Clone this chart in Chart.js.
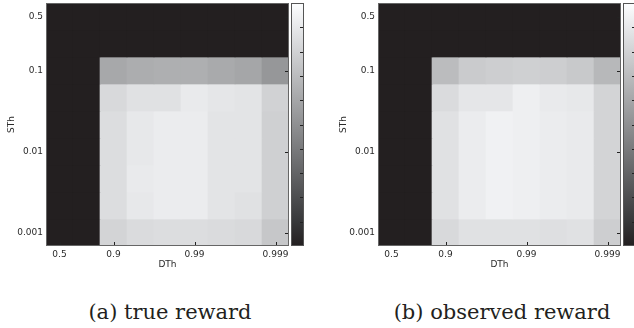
<!DOCTYPE html>
<html>
<head>
<meta charset="utf-8">
<script src="https://cdn.jsdelivr.net/npm/chart.js@4"></script>
<style>
body{margin:0;background:#fff;width:634px;height:328px;overflow:hidden;position:relative}
.panel{position:absolute;top:0}
.caption{position:absolute;top:300px;font-family:"DejaVu Serif";font-size:21px;color:#231f20;white-space:nowrap;transform:translateX(-50%)}
</style>
</head>
<body>
<div class="panel" style="left:0"><canvas id="trueChart" width="320" height="276"></canvas></div>
<div class="panel" style="left:332px"><canvas id="obsChart" width="302" height="276"></canvas></div>
<div class="caption" style="left:170px">(a) true reward</div>
<div class="caption" style="left:502px">(b) observed reward</div>
<script>
// tick labels (DTh columns, STh rows top to bottom)
const dthLabels = ["0.5", "", "0.9", "", "", "0.99", "", "", "0.999"];
const sthLabels = ["0.5", "", "0.1", "", "", "0.01", "", "", "0.001"];

// normalised reward, one row per STh, one column per DTh
const trueReward = [
    [0, 0, 0,    0,    0,    0,    0,    0,    0   ],
    [0, 0, 0,    0,    0,    0,    0,    0,    0   ],
    [0, 0, 0.61, 0.63, 0.64, 0.64, 0.62, 0.60, 0.53],
    [0, 0, 0.83, 0.87, 0.87, 0.91, 0.89, 0.88, 0.80],
    [0, 0, 0.85, 0.90, 0.92, 0.92, 0.88, 0.88, 0.79],
    [0, 0, 0.85, 0.90, 0.92, 0.92, 0.88, 0.88, 0.79],
    [0, 0, 0.85, 0.91, 0.92, 0.92, 0.88, 0.88, 0.79],
    [0, 0, 0.85, 0.90, 0.92, 0.92, 0.88, 0.87, 0.79],
    [0, 0, 0.81, 0.84, 0.85, 0.85, 0.84, 0.83, 0.75]
];

const observedReward = [
    [0, 0, 0,    0,    0,    0,    0,    0,    0   ],
    [0, 0, 0,    0,    0,    0,    0,    0,    0   ],
    [0, 0, 0.70, 0.77, 0.78, 0.79, 0.78, 0.76, 0.68],
    [0, 0, 0.84, 0.89, 0.89, 0.93, 0.91, 0.90, 0.81],
    [0, 0, 0.87, 0.92, 0.94, 0.93, 0.92, 0.91, 0.81],
    [0, 0, 0.87, 0.92, 0.94, 0.93, 0.92, 0.91, 0.81],
    [0, 0, 0.87, 0.92, 0.94, 0.93, 0.92, 0.91, 0.81],
    [0, 0, 0.87, 0.92, 0.94, 0.93, 0.92, 0.91, 0.81],
    [0, 0, 0.83, 0.87, 0.87, 0.87, 0.86, 0.87, 0.78]
];

const colorbarTicks = [0, 0.1, 0.2, 0.3, 0.4, 0.5, 0.6, 0.7, 0.8, 0.9, 1];

Chart.defaults.font.family = "DejaVu Sans";
Chart.defaults.font.size = 9;
Chart.defaults.color = "#2a2a2a";

function grey(v){
    if(v <= 0) return "rgb(35,31,32)";
    const g = Math.round(35 + 220 * v);
    return "rgb(" + (g - 2) + "," + (g - 1) + "," + Math.min(255, g + 1) + ")";
}

/* ticks, frame and colorbar */
const heatmapExtras = {
    id: "heatmapExtras",
    afterDraw(chart){
        const ctx = chart.ctx;
        const a = chart.chartArea;
        const xs = chart.scales.x;
        const ys = chart.scales.y;

        ctx.save();
        ctx.strokeStyle = "#666";
        ctx.lineWidth = 1;
        ctx.strokeRect(a.left + 0.5, a.top + 0.5, a.right - a.left - 1, a.bottom - a.top - 1);

        ctx.strokeStyle = "#222";
        ctx.beginPath();
        dthLabels.forEach(function(l, i){
            if(!l) return;
            const x = Math.round(xs.getPixelForTick(i)) + 0.5;
            ctx.moveTo(x, a.bottom - 1);
            ctx.lineTo(x, a.bottom - 4);
        });
        sthLabels.forEach(function(l, i){
            if(!l) return;
            const y = Math.round(ys.getPixelForValue(i)) + 0.5;
            ctx.moveTo(a.right - 1, y);
            ctx.lineTo(a.right - 4, y);
        });
        ctx.stroke();

        // colorbar
        const cx = a.right + 2;
        const cw = 13;
        const grad = ctx.createLinearGradient(0, a.bottom, 0, a.top);
        colorbarTicks.forEach(function(t){ grad.addColorStop(t, grey(t)); });
        ctx.fillStyle = grad;
        ctx.fillRect(cx, a.top, cw, a.bottom - a.top);
        ctx.strokeStyle = "#555";
        ctx.strokeRect(cx + 0.5, a.top + 0.5, cw - 1, a.bottom - a.top - 1);

        ctx.strokeStyle = "#222";
        ctx.beginPath();
        colorbarTicks.forEach(function(t){
            if(t === 0 || t === 1) return;
            const y = Math.round(a.bottom - t * (a.bottom - a.top)) + 0.5;
            ctx.moveTo(cx + cw - 1, y);
            ctx.lineTo(cx + cw - 4, y);
        });
        ctx.stroke();
        ctx.restore();
    }
};

function makeHeatmap(canvasId, values, padRight){

    const datasets = values.map(function(row, r){
        return {
            data: row.map(function(){ return [r - 0.5, r + 0.5]; }),
            backgroundColor: row.map(grey),
            borderWidth: 0,
            barPercentage: 1,
            categoryPercentage: 1,
            grouped: false
        };
    });

    new Chart(document.getElementById(canvasId), {
        type: "bar",
        data: {
            labels: dthLabels,
            datasets: datasets
        },
        options: {
            responsive: false,
            animation: false,
            layout: { padding: { top: 3, right: padRight, left: 0, bottom: 0 } },
            plugins: {
                legend: { display: false },
                tooltip: { enabled: false }
            },
            scales: {
                x: {
                    grid: { display: false, drawTicks: false },
                    border: { display: false },
                    ticks: { autoSkip: false, maxRotation: 0, padding: 3 },
                    title: { display: true, text: "DTh", padding: { top: 0, bottom: 6 } },
                    afterFit: function(s){
                        s.height = 30;
                        s.paddingLeft = 0;
                        s.paddingRight = 0;
                    }
                },
                y: {
                    reverse: true,
                    min: -0.5,
                    max: 8.5,
                    grid: { display: false, drawTicks: false },
                    border: { display: false },
                    afterBuildTicks: function(s){
                        s.ticks = sthLabels.map(function(_, i){ return { value: i }; });
                    },
                    ticks: {
                        autoSkip: false,
                        padding: 3,
                        callback: function(v){ return sthLabels[v] || ""; }
                    },
                    title: { display: true, text: "STh", padding: { top: 6, bottom: 0 } },
                    afterFit: function(s){
                        s.width = 46;
                        s.paddingTop = 0;
                        s.paddingBottom = 0;
                    }
                }
            }
        },
        plugins: [heatmapExtras]
    });
}

makeHeatmap("trueChart", trueReward, 31);
makeHeatmap("obsChart", observedReward, 13);
</script>
</body>
</html>
